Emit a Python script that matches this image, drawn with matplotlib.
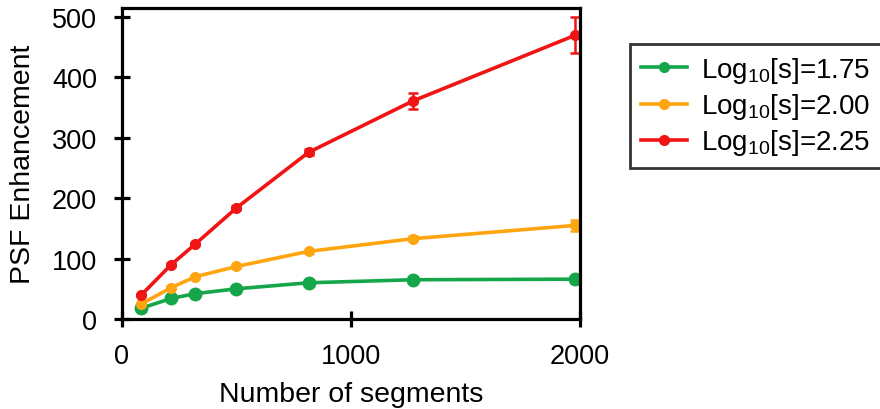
import matplotlib
matplotlib.use("Agg")
import matplotlib.pyplot as plt
from matplotlib.lines import Line2D

plt.rcParams['font.family'] = ['Liberation Sans', 'DejaVu Sans']
plt.rcParams['mathtext.default'] = 'regular'

# Number of segments along the x axis
segments = [85, 215, 320, 500, 815, 1270, 1980]

# PSF enhancement for each scattering level, with error bar half-widths
enh_175 = [18, 34, 42, 50, 60, 65, 66]
err_175 = [2, 2, 2, 2, 2, 2, 6]
enh_200 = [25, 52, 70, 87, 112, 133, 155]
err_200 = [2, 2, 2, 2, 2, 4, 9]
enh_225 = [40, 90, 124, 184, 276, 361, 470]
err_225 = [2, 2, 2, 3, 5, 14, 30]

labels = ['Log$_{10}$[s]=1.75', 'Log$_{10}$[s]=2.00', 'Log$_{10}$[s]=2.25']
colors = ['#16A64A', '#FFA510', '#F01414']

fig = plt.figure(figsize=(8.8, 4.1), dpi=100)
ax = fig.add_axes([0.1386, 0.2195, 0.5204, 0.7585])

series = [(enh_175, err_175, 9), (enh_200, err_200, 7), (enh_225, err_225, 7)]
handles = []
for (vals, errs, ms), lab, col in zip(series, labels, colors):
    ax.errorbar(segments, vals, yerr=errs, color=col, lw=2.6, marker='o',
                markersize=ms, capsize=3.5, elinewidth=1.8, capthick=1.8)
    handles.append(Line2D([], [], color=col, lw=2.6, marker='o',
                          markersize=7, label=lab))

ax.set_xlim(0, 2000)
ax.set_ylim(0, 515)
ax.set_xticks([0, 1000, 2000])
ax.set_yticks([0, 100, 200, 300, 400, 500])

for s in ax.spines.values():
    s.set_linewidth(2.3)
ax.tick_params(direction='inout', length=12, width=2.3, labelsize=19.5)
ax.tick_params(axis='y', pad=12)
ax.tick_params(axis='x', pad=11)

ax.set_xlabel('Number of segments', fontsize=20.5, labelpad=9)
ax.set_ylabel('PSF Enhancement', fontsize=20.5, labelpad=11)

leg = fig.legend(handles=handles, loc='upper left',
                 bbox_to_anchor=(630 / 880, 1 - 45 / 410), fontsize=20,
                 frameon=True, fancybox=False, edgecolor='black',
                 handlelength=1.65, handletextpad=0.5, borderpad=0.4,
                 labelspacing=0.22, borderaxespad=0)
leg.get_frame().set_linewidth(2.0)

fig.savefig('out.png', dpi=100)
